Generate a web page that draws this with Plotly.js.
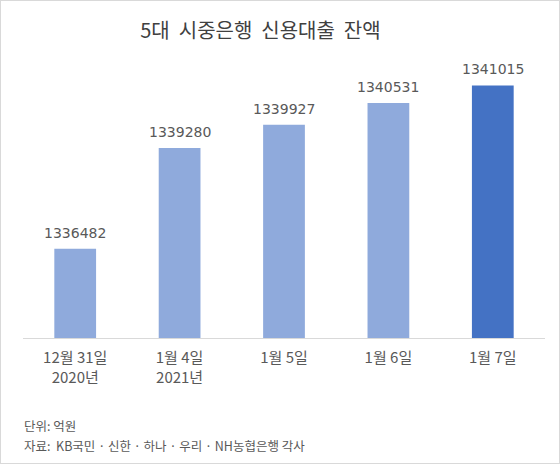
<!DOCTYPE html>
<html>
<head>
<meta charset="utf-8">
<script src="https://cdn.plot.ly/plotly-3.0.1.min.js"></script>
<style>
  body { margin: 0; background: white; }
  #wrap { width: 558px; height: 462px; border: 1px solid #d9d9d9; }
</style>
</head>
<body>
<div id="wrap"><div id="chart"></div></div>
<script>
// 날짜 (x축)
const dates = ['12월 31일<br>2020년', '1월 4일<br>2021년', '1월 5일', '1월 6일', '1월 7일'];
// 신용대출 잔액 (억원)
const balances = [1336482, 1339280, 1339927, 1340531, 1341015];
const barColors = ['#8faadc', '#8faadc', '#8faadc', '#8faadc', '#4472c4'];

const font = '"Noto Sans CJK KR", "Noto Sans", sans-serif';
const numFont = '"DejaVu Sans", sans-serif';

const data = [{
  type: 'bar',
  x: dates,
  y: balances,
  marker: { color: barColors },
  width: 0.4,
  hoverinfo: 'x+y'
}];

// 막대 위 값 표시
const valueLabels = balances.map((v, i) => ({
  x: dates[i], y: v,
  xref: 'x', yref: 'y',
  text: String(v),
  showarrow: false,
  yanchor: 'bottom',
  yshift: 6,
  font: { family: numFont, size: 14, color: '#595959' }
}));

const layout = {
  width: 558,
  height: 462,
  margin: { t: 49, l: 22, r: 14, b: 125 },
  paper_bgcolor: 'white',
  plot_bgcolor: 'white',
  font: { family: font, color: '#595959' },
  showlegend: false,
  title: {
    text: '5대  시중은행  신용대출  잔액',
    font: { family: font, size: 20, color: '#404040' },
    x: 0.465, xanchor: 'center',
    y: 0.935, yanchor: 'middle'
  },
  xaxis: {
    type: 'category',
    showline: true,
    linecolor: '#d9d9d9',
    linewidth: 1,
    ticks: '',
    ticklabelstandoff: 6,
    tickfont: { family: font, size: 15, color: '#595959' },
    fixedrange: true
  },
  yaxis: {
    range: [1334000, 1342000],
    visible: false,
    showgrid: false,
    zeroline: false,
    fixedrange: true
  },
  annotations: valueLabels.concat([
    {
      text: '단위: 억원',
      xref: 'paper', yref: 'paper',
      x: -0.002, y: -0.305, xanchor: 'left', yanchor: 'middle',
      showarrow: false,
      font: { family: font, size: 12.5, color: '#595959' }
    },
    {
      text: '자료:  KB국민 · 신한 · 하나 · 우리 · NH농협은행 각사',
      xref: 'paper', yref: 'paper',
      x: -0.002, y: -0.372, xanchor: 'left', yanchor: 'middle',
      showarrow: false,
      font: { family: font, size: 12.5, color: '#595959' }
    }
  ])
};

Plotly.newPlot('chart', data, layout, { displayModeBar: false, staticPlot: true });
</script>
</body>
</html>
